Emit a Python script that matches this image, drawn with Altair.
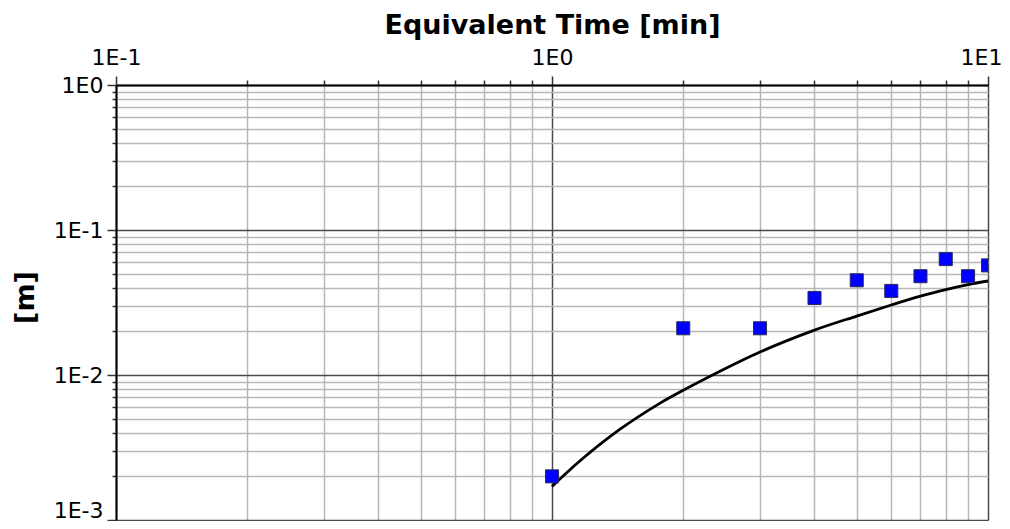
import altair as alt
import pandas as pd

# measured data (squares)
pt_time = [1, 2, 3, 4, 5, 6, 7, 8, 9, 10]
pt_val = [0.002, 0.021, 0.021, 0.034, 0.045, 0.038, 0.048, 0.063, 0.048, 0.057]

# model curve
cv_time = [1, 1.16, 1.43, 1.77, 2, 3, 4, 5, 6, 7, 8, 9, 10]
cv_val = [0.0017, 0.00256, 0.00421, 0.0064, 0.00785, 0.0144, 0.0204, 0.0255, 0.0304, 0.035, 0.0388, 0.042, 0.0445]

x_ticks = [0.1, 0.2, 0.3, 0.4, 0.5, 0.6, 0.7, 0.8, 0.9,
           1, 2, 3, 4, 5, 6, 7, 8, 9, 10]
y_ticks = [0.001, 0.002, 0.003, 0.004, 0.005, 0.006, 0.007, 0.008, 0.009,
           0.01, 0.02, 0.03, 0.04, 0.05, 0.06, 0.07, 0.08, 0.09,
           0.1, 0.2, 0.3, 0.4, 0.5, 0.6, 0.7, 0.8, 0.9, 1]

pts = pd.DataFrame({"t": pt_time, "v": pt_val})
crv = pd.DataFrame({"t": cv_time, "v": cv_val})

DEC = "abs(log(datum.value)/LN10 - round(log(datum.value)/LN10)) < 0.001"
LBL = DEC + " ? '1E' + round(log(datum.value)/LN10) : ''"
FONT = "DejaVu Sans"

x_scale = alt.Scale(type="log", domain=[0.1, 10], nice=False)
y_scale = alt.Scale(type="log", domain=[0.001, 1], nice=False)

x_axis = alt.Axis(
    orient="top", values=x_ticks, labelExpr=LBL, title="Equivalent Time [min]",
    grid=True,
    gridColor=alt.condition(DEC, alt.value("#4a4a4a"), alt.value("#b8b8b8")),
    gridWidth=1.5,
    tickColor="#333333", tickWidth=1.5,
    tickSize=alt.condition(DEC, alt.value(9), alt.value(5)),
    domainColor="#000000", domainWidth=2,
    labelFont=FONT, labelFontSize=22, labelColor="#000000", labelPadding=7,
    labelFlush=False, labelOverlap=False,
    labelOffset=alt.condition("datum.value > 9.5", alt.value(-7), alt.value(0)),
    titleFont=FONT, titleFontSize=27, titleFontWeight="bold", titleColor="#000000",
    titleBaseline="alphabetic", titleY=-52, titleAlign="center",
)
y_axis = alt.Axis(
    orient="left", values=y_ticks, labelExpr=LBL, title="[m]",
    grid=True,
    gridColor=alt.condition(DEC, alt.value("#4a4a4a"), alt.value("#b8b8b8")),
    gridWidth=1.5,
    tickColor="#333333", tickWidth=1.5,
    tickSize=alt.condition(DEC, alt.value(9), alt.value(4)),
    domainColor="#000000", domainWidth=2,
    labelFont=FONT, labelFontSize=22, labelColor="#000000", labelPadding=4,
    labelFlush=False, labelOverlap=False, labelBaseline="middle",
    labelOffset=alt.condition("datum.value < 0.0015", alt.value(-10), alt.value(0)),
    titleFont=FONT, titleFontSize=27, titleFontWeight="bold", titleColor="#000000",
    titleAngle=-90, titleBaseline="alphabetic", titleX=-83, titleY=212, titleAlign="center",
)

line = alt.Chart(crv).mark_line(color="#000000", strokeWidth=2.8, interpolate="catmull-rom", clip=True).encode(
    x=alt.X("t:Q", scale=x_scale, axis=x_axis),
    y=alt.Y("v:Q", scale=y_scale, axis=y_axis),
)

points = alt.Chart(pts).mark_point(
    shape="square", filled=True, size=170, color="#0000ff",
    stroke="#2a2a55", strokeWidth=1, opacity=1, clip=True,
).encode(
    x=alt.X("t:Q", scale=x_scale),
    y=alt.Y("v:Q", scale=y_scale),
)

chart = alt.layer(line, points).properties(
    width=872, height=435,
    autosize=alt.AutoSizeParams(type="none"),
    padding={"left": 108, "top": 77, "right": 14, "bottom": 1},
).configure_view(stroke="#000000", strokeWidth=2).configure(background="#ffffff")

chart.save("out.html", embed_options={"renderer": "svg", "actions": False})
